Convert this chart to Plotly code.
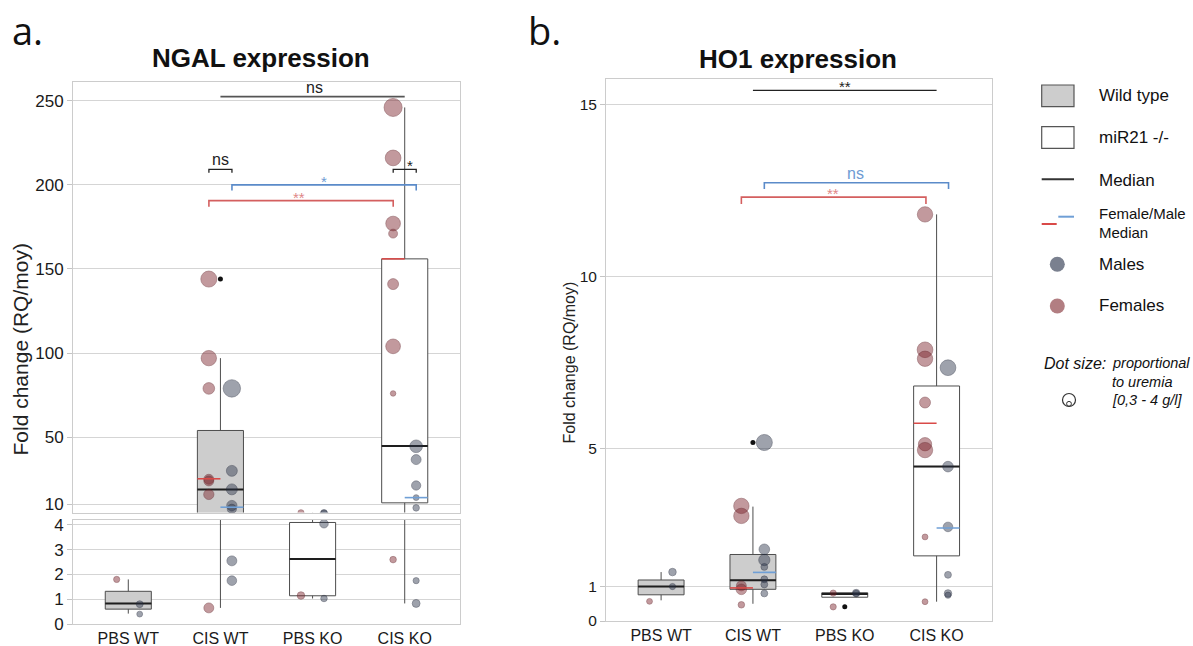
import plotly.graph_objects as go

W, H = 1193, 646
groups = ["PBS WT", "CIS WT", "PBS KO", "CIS KO"]

# ---------------- NGAL (panel a) ----------------
ngal_f = [[1.8], [144, 97, 79, 25, 24, 16, 0.65], [5.1, 1.15],
          [246, 216, 177, 171, 141, 104, 76, 2.6]]
ngal_f_ur = [[0.5], [3.4, 3.2, 2.1, 1.6, 1.6, 1.7, 1.6], [0.5, 0.9],
             [4.0, 3.3, 3.0, 1.3, 1.9, 3.0, 0.3, 0.6]]
ngal_m = [[0.8, 0.4], [79, 30, 19, 9.4, 7.4, 2.55, 1.75], [5.1, 4.05, 1.03],
          [44.6, 36.7, 21.3, 14.1, 8.0, 1.75, 0.83]]
ngal_m_ur = [[0.7, 0.4], [3.8, 1.9, 1.9, 1.7, 1.4, 1.6, 1.5], [0.6, 1.2, 0.6],
             [2.4, 1.6, 1.4, 0.4, 0.6, 0.5, 1.0]]
ngal_q1 = [0.6, 4.7, 1.14, 11]
ngal_med = [0.83, 18.9, 2.62, 44.8]
ngal_q3 = [1.32, 54, 4.1, 156]
ngal_lo = [0.42, 0.65, 1.03, 0.83]
ngal_hi = [1.8, 97, 5.1, 246]
ngal_f_med = [None, 25.3, None, 156]
ngal_m_med = [None, 8.4, None, 14.1]
ngal_out_x = [1]
ngal_out_y = [144]
ngal_ticks_top = [10, 50, 100, 150, 200, 250]
ngal_ticks_bottom = [0, 1, 2, 3, 4]
# brackets: x0, x1, y, drop, label, label_x, colour key
ngal_brackets = [
    (1.0, 3.0, 252.4, 0, "ns", 2.02, "gray"),
    (0.875, 1.125, 209.2, 2.0, "ns", 1.0, "black"),
    (2.875, 3.125, 209.2, 2.0, "*", 3.06, "black"),
    (1.125, 3.125, 200.0, 3.4, "*", 2.12, "blue"),
    (0.875, 2.875, 190.6, 3.6, "**", 1.855, "red"),
]

# ---------------- HO1 (panel b) ----------------
ho1_f = [[0.57], [3.34, 3.05, 1.02, 0.92, 0.47], [0.81, 0.41],
         [11.8, 7.87, 7.61, 6.34, 5.13, 4.96, 2.44, 0.56]]
ho1_f_ur = [[0.4], [3.2, 3.2, 1.6, 1.8, 0.6], [0.5, 0.5],
            [3.2, 3.3, 3.2, 1.9, 2.6, 3.2, 0.4, 0.4]]
ho1_m = [[1.42, 1.0], [5.18, 2.08, 1.77, 1.57, 1.21, 1.06, 0.8], [0.81, 0.8],
         [7.35, 4.48, 2.73, 1.34, 0.8, 0.75]]
ho1_m_ur = [[0.9, 0.5], [3.4, 1.8, 2.0, 0.7, 0.7, 0.7, 0.7], [0.9, 0.5],
            [3.3, 1.8, 1.5, 0.7, 0.9, 0.5]]
ho1_q1 = [0.76, 0.92, 0.69, 1.89]
ho1_med = [1.0, 1.18, 0.78, 4.48]
ho1_q3 = [1.19, 1.93, 0.82, 6.82]
ho1_lo = [0.6, 0.5, 0.69, 0.56]
ho1_hi = [1.42, 3.32, 0.82, 11.8]
ho1_f_med = [None, 0.96, None, 5.74]
ho1_m_med = [None, 1.41, None, 2.7]
ho1_out_x = [1, 2]
ho1_out_y = [5.18, 0.41]
ho1_ticks = [0, 1, 5, 10, 15]
ho1_brackets = [
    (1.0, 3.0, 15.4, 0, "**", 2.0, "black"),
    (1.124, 3.13, 12.72, 0.18, "ns", 2.12, "blue"),
    (0.874, 2.884, 12.3, 0.2, "**", 1.877, "red"),
]

# ---------------- styling ----------------
FONT = "Liberation Sans, Arial, sans-serif"
F_OFF, M_OFF = -0.126, 0.124
F_COL = "rgba(120,30,38,0.64)"
M_COL = "rgba(40,50,72,0.64)"
F_EDGE = "rgba(95,30,36,0.55)"
M_EDGE = "rgba(32,38,56,0.55)"
WT_FILL = "#cdcdcd"
BOX_LINE = "#4d4d4d"
GRID = "#d5d5d5"
FRAME = "#cccccc"
BR_COL = {"black": "#222222", "gray": "#555555", "blue": "#5b8bc9", "red": "#d45f5f"}
TXT_COL = {"black": "#222222", "gray": "#222222", "blue": "#6e9bd3", "red": "#e08787"}
LINE_F = "#d94a48"
LINE_M = "#6f9fd6"


def PX(x):
    return x / W


def PY(y):
    return 1 - y / H


def size_of(ur):
    return [4.5 + 3.4 * u for u in ur]


fig = go.Figure()


def add_panel(xa, ya, fvals, fur, mvals, mur, q1, med, q3, lo, hi, fmed, mmed, ox, oy):
    for i in range(4):
        fig.add_trace(go.Box(
            x=[i], q1=[q1[i]], median=[med[i]], q3=[q3[i]],
            lowerfence=[lo[i]], upperfence=[hi[i]], width=0.5,
            fillcolor=WT_FILL if i < 2 else "white",
            line=dict(color=BOX_LINE, width=1), whiskerwidth=0,
            boxpoints=False, xaxis=xa, yaxis=ya, showlegend=False, hoverinfo="skip"))
    mx, my = [], []
    for i in range(4):
        mx += [i - 0.25, i + 0.25, None]
        my += [med[i], med[i], None]
    fig.add_trace(go.Scatter(x=mx, y=my, mode="lines", line=dict(color="#1e1e1e", width=2),
                             xaxis=xa, yaxis=ya, showlegend=False, hoverinfo="skip"))
    for vals, urs, off, col, edge in ((fvals, fur, F_OFF, F_COL, F_EDGE),
                                      (mvals, mur, M_OFF, M_COL, M_EDGE)):
        xs, ys, ss = [], [], []
        for i in range(4):
            xs += [i + off] * len(vals[i])
            ys += vals[i]
            ss += size_of(urs[i])
        fig.add_trace(go.Scatter(x=xs, y=ys, mode="markers",
                                 marker=dict(size=ss, color=col, line=dict(color=edge, width=1)),
                                 xaxis=xa, yaxis=ya, showlegend=False, hoverinfo="skip",
                                 cliponaxis=True))
    fig.add_trace(go.Scatter(x=ox, y=oy, mode="markers", marker=dict(size=5, color="#111111"),
                             xaxis=xa, yaxis=ya, showlegend=False, hoverinfo="skip"))
    for meds, x0off, x1off, col in ((fmed, -0.25, 0.0, LINE_F), (mmed, 0.0, 0.25, LINE_M)):
        lx, ly = [], []
        for i in range(4):
            if meds[i] is not None:
                lx += [i + x0off, i + x1off, None]
                ly += [meds[i], meds[i], None]
        fig.add_trace(go.Scatter(x=lx, y=ly, mode="lines", line=dict(color=col, width=1.6),
                                 xaxis=xa, yaxis=ya, showlegend=False, hoverinfo="skip"))


def add_brackets(xa, ya, brackets):
    for x0, x1, y, drop, label, lx, ck in brackets:
        if drop:
            bx, by = [x0, x0, x1, x1], [y - drop, y, y, y - drop]
        else:
            bx, by = [x0, x1], [y, y]
        fig.add_trace(go.Scatter(x=bx, y=by, mode="lines",
                                 line=dict(color=BR_COL[ck], width=1.6 if ck != "black" else 1.3),
                                 xaxis=xa, yaxis=ya, showlegend=False, hoverinfo="skip",
                                 cliponaxis=False))
        star = label.startswith("*")
        fig.add_annotation(x=lx, y=y, xref=xa, yref=ya, text=label, showarrow=False,
                           yanchor="bottom", yshift=-7 if star else -1,
                           font=dict(family=FONT, size=15 if star else 16, color=TXT_COL[ck]))


add_panel("x", "y", ngal_f, ngal_f_ur, ngal_m, ngal_m_ur, ngal_q1, ngal_med, ngal_q3,
          ngal_lo, ngal_hi, ngal_f_med, ngal_m_med, ngal_out_x, ngal_out_y)
add_panel("x2", "y2", ngal_f, ngal_f_ur, ngal_m, ngal_m_ur, ngal_q1, ngal_med, ngal_q3,
          ngal_lo, ngal_hi, ngal_f_med, ngal_m_med, ngal_out_x, ngal_out_y)
add_panel("x3", "y3", ho1_f, ho1_f_ur, ho1_m, ho1_m_ur, ho1_q1, ho1_med, ho1_q3,
          ho1_lo, ho1_hi, ho1_f_med, ho1_m_med, ho1_out_x, ho1_out_y)
add_brackets("x", "y", ngal_brackets)
add_brackets("x3", "y3", ho1_brackets)

tickfont_a = dict(family=FONT, size=17, color="#1a1a1a")
tickfont_b = dict(family=FONT, size=15.5, color="#1a1a1a")
xtickfont = dict(family=FONT, size=16, color="#1a1a1a")
frame = dict(showline=True, mirror=True, linecolor=FRAME, linewidth=1, zeroline=False,
             automargin=False)
xr = [-0.6, 3.6]
yax_common = dict(showgrid=True, gridcolor=GRID, gridwidth=1, ticks="outside", ticklen=5,
                  tickcolor="#c4c4c4", **frame)

fig.update_layout(
    width=W, height=H, margin=dict(l=0, r=0, t=0, b=0, autoexpand=False),
    paper_bgcolor="white", plot_bgcolor="white", showlegend=False, hovermode=False,
    xaxis=dict(domain=[PX(73), PX(460)], range=xr, anchor="y", showticklabels=False,
               showgrid=False, **frame),
    yaxis=dict(domain=[PY(512.5), PY(81.7)], range=[5.25, 261.3], anchor="x",
               tickvals=ngal_ticks_top, tickfont=tickfont_a, **yax_common),
    xaxis2=dict(domain=[PX(73), PX(460)], range=xr, anchor="y2", tickvals=[0, 1, 2, 3],
                ticktext=groups, tickfont=xtickfont, showgrid=False, ticks="", **frame),
    yaxis2=dict(domain=[PY(624), PY(519.5)], range=[0, 4.22], anchor="x2",
                tickvals=ngal_ticks_bottom, tickfont=tickfont_a, **yax_common),
    xaxis3=dict(domain=[PX(606), PX(991.7)], range=xr, anchor="y3", tickvals=[0, 1, 2, 3],
                ticktext=groups, tickfont=xtickfont, showgrid=False, ticks="", **frame),
    yaxis3=dict(domain=[PY(621), PY(79.3)], range=[0, 15.72], anchor="x3",
                tickvals=ho1_ticks, tickfont=tickfont_b, **yax_common),
)


def ann(x, y, text, size, xanchor="center", yanchor="middle", family=FONT, color="#111111",
        angle=0, italic=False):
    if italic:
        text = "<i>" + text + "</i>"
    fig.add_annotation(x=PX(x), y=PY(y), xref="paper", yref="paper", text=text, showarrow=False,
                       xanchor=xanchor, yanchor=yanchor, textangle=angle,
                       font=dict(family=family, size=size, color=color))


ann(260.8, 58, "<b>NGAL expression</b>", 26)
ann(798.3, 59, "<b>HO1 expression</b>", 26)
ann(10, 30, "a.", 38, xanchor="left", family="Open Sans, sans-serif")
ann(526, 30, "b.", 38, xanchor="left", family="Open Sans, sans-serif")
ann(19.5, 350, "Fold change (RQ/moy)", 21, angle=-90, color="#222222")
ann(568.5, 363, "Fold change (RQ/moy)", 16, angle=-90, color="#222222")

# ---------------- legend ----------------
shapes = []
shapes.append(dict(type="rect", xref="paper", yref="paper", x0=PX(1041.7), x1=PX(1074),
                   y0=PY(106.7), y1=PY(85), fillcolor=WT_FILL, line=dict(color="#555555", width=1.2)))
shapes.append(dict(type="rect", xref="paper", yref="paper", x0=PX(1041.7), x1=PX(1074),
                   y0=PY(148.3), y1=PY(126.7), fillcolor="white", line=dict(color="#555555", width=1.2)))
shapes.append(dict(type="line", xref="paper", yref="paper", x0=PX(1041.7), x1=PX(1074),
                   y0=PY(179.3), y1=PY(179.3), line=dict(color="#333333", width=2)))
shapes.append(dict(type="line", xref="paper", yref="paper", x0=PX(1041.7), x1=PX(1056.7),
                   y0=PY(224), y1=PY(224), line=dict(color=LINE_F, width=2)))
shapes.append(dict(type="line", xref="paper", yref="paper", x0=PX(1058.3), x1=PX(1074),
                   y0=PY(216.7), y1=PY(216.7), line=dict(color=LINE_M, width=2)))
for cy, col in ((264.3, "rgb(122,128,143)"), (306, "rgb(178,126,130)")):
    shapes.append(dict(type="circle", xref="paper", yref="paper", x0=PX(1049.8), x1=PX(1064.8),
                       y0=PY(cy + 7.5), y1=PY(cy - 7.5), fillcolor=col, line=dict(width=0)))
shapes.append(dict(type="circle", xref="paper", yref="paper", x0=PX(1062.5), x1=PX(1075.5),
                   y0=PY(406.5), y1=PY(393.5), line=dict(color="#333333", width=1.2)))
shapes.append(dict(type="circle", xref="paper", yref="paper", x0=PX(1066.6), x1=PX(1071.4),
                   y0=PY(406.2), y1=PY(401.4), line=dict(color="#333333", width=1)))
fig.update_layout(shapes=shapes)

ann(1096.7, 96, "Wild type", 17, xanchor="left")
ann(1096.7, 137, "miR21 -/-", 17, xanchor="left")
ann(1096.7, 180, "Median", 17, xanchor="left")
ann(1096.7, 213.5, "Female/Male", 15, xanchor="left")
ann(1096.7, 232.3, "Median", 15, xanchor="left")
ann(1096.7, 264.3, "Males", 17, xanchor="left")
ann(1096.7, 306, "Females", 17, xanchor="left")
ann(1108, 363.3, "Dot size:", 16, xanchor="right", italic=True)
ann(1110, 363.3, "proportional", 14.5, xanchor="left", italic=True)
ann(1110, 381.7, "to uremia", 14.5, xanchor="left", italic=True)
ann(1110, 400, "[0,3 - 4 g/l]", 14.5, xanchor="left", italic=True)

# remove the default 8px page margin so the figure sits exactly in the window
fig.write_html("out.html", config={"displayModeBar": False},
               post_script="document.body.style.margin='0';")
